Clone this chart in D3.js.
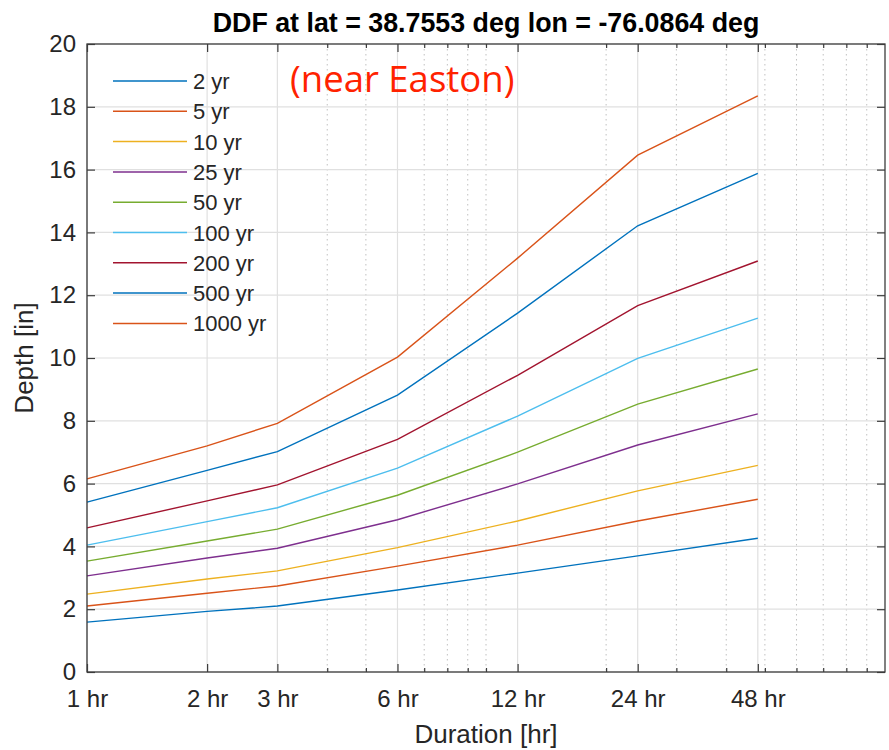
<!DOCTYPE html>
<html>
<head>
<meta charset="utf-8">
<script src="https://cdn.jsdelivr.net/npm/d3@7"></script>
<style>
body { margin: 0; background: #fff; }
text { font-family: Arial, "Liberation Sans", Helvetica, sans-serif; fill: #262626; }
</style>
</head>
<body>
<svg width="889" height="750"></svg>
<script>
// durations in hours, depth in inches per return period
var durations = [1, 2, 3, 6, 12, 24, 48];
var periods = ['2 yr', '5 yr', '10 yr', '25 yr', '50 yr', '100 yr', '200 yr', '500 yr', '1000 yr'];
var depth2 = [1.59, 1.93, 2.10, 2.61, 3.15, 3.70, 4.26];
var depth5 = [2.10, 2.51, 2.74, 3.37, 4.04, 4.81, 5.50];
var depth10 = [2.48, 2.96, 3.22, 3.96, 4.81, 5.77, 6.58];
var depth25 = [3.06, 3.63, 3.94, 4.85, 5.99, 7.23, 8.22];
var depth50 = [3.53, 4.17, 4.55, 5.63, 7.00, 8.53, 9.65];
var depth100 = [4.04, 4.79, 5.23, 6.49, 8.15, 9.99, 11.27];
var depth200 = [4.59, 5.45, 5.96, 7.41, 9.45, 11.67, 13.09];
var depth500 = [5.41, 6.42, 7.02, 8.82, 11.43, 14.21, 15.88];
var depth1000 = [6.15, 7.20, 7.92, 10.03, 13.18, 16.46, 18.35];
var xTicks = [1, 2, 3, 6, 12, 24, 48];
var xTickLabels = ['1 hr', '2 hr', '3 hr', '6 hr', '12 hr', '24 hr', '48 hr'];
var xMinor = [4, 5, 7, 8, 9, 10, 20, 30, 40, 50, 60, 70, 80, 90];
var yTicks = [0, 2, 4, 6, 8, 10, 12, 14, 16, 18, 20];

var series = [depth2, depth5, depth10, depth25, depth50, depth100, depth200, depth500, depth1000];
var colors = ['#0072BD', '#D95319', '#EDB120', '#7E2F8E', '#77AC30', '#4DBEEE', '#A2142F', '#0072BD', '#D95319'];

var svg = d3.select('svg'),
margin = {top: 44, right: 4, bottom: 78, left: 87},
width = 889 - margin.left - margin.right,
height = 750 - margin.top - margin.bottom,
g = svg.append('g').attr('transform', 'translate(' + margin.left + ',' + margin.top + ')');

var x = d3.scaleLog().domain([1, 100]).range([0, width]),
y = d3.scaleLinear().domain([0, 20]).range([height, 0]);

// grid: minor dotted first, then major
g.append('g').selectAll('line')
.data(xMinor)
.enter().append('line')
.attr('x1', function(d) { return x(d); }).attr('x2', function(d) { return x(d); })
.attr('y1', 0).attr('y2', height)
.style('stroke', '#c0c0c0').style('stroke-width', '1px').style('stroke-dasharray', '1.5,3.5');

g.append('g').selectAll('line')
.data(xTicks)
.enter().append('line')
.attr('x1', function(d) { return x(d); }).attr('x2', function(d) { return x(d); })
.attr('y1', 0).attr('y2', height)
.style('stroke', '#e0e0e0').style('stroke-width', '1.2px');

g.append('g').selectAll('line')
.data(yTicks)
.enter().append('line')
.attr('x1', 0).attr('x2', width)
.attr('y1', function(d) { return y(d); }).attr('y2', function(d) { return y(d); })
.style('stroke', '#e0e0e0').style('stroke-width', '1.2px');

// data lines
var line = d3.line()
.x(function(d, i) { return x(durations[i]); })
.y(function(d) { return y(d); });

series.forEach(function(s, i) {
g.append('path')
.attr('d', line(s))
.style('fill', 'none')
.style('stroke', colors[i])
.style('stroke-width', '1.4px');
});

// axes (box with inward ticks on all sides)
var axisColor = '#3c3c3c';
function styleAxis(sel) {
sel.select('.domain').remove();
sel.selectAll('.tick line').style('stroke', axisColor).style('stroke-width', '1.2px');
sel.selectAll('text').style('font-size', '24px').style('fill', '#262626')
.style('font-family', 'Arial, "Liberation Sans", sans-serif');
}

g.append('g').attr('transform', 'translate(0,' + height + ')')
.call(d3.axisBottom(x).tickValues(xTicks).tickFormat(function(d, i) { return xTickLabels[i]; })
.tickSizeInner(-8).tickSizeOuter(0).tickPadding(18))
.call(styleAxis);
g.append('g').attr('transform', 'translate(0,' + height + ')')
.call(d3.axisBottom(x).tickValues(xMinor).tickFormat('').tickSizeInner(-4).tickSizeOuter(0))
.call(styleAxis);
g.append('g')
.call(d3.axisTop(x).tickValues(xTicks).tickFormat('').tickSizeInner(-8).tickSizeOuter(0))
.call(styleAxis);
g.append('g')
.call(d3.axisTop(x).tickValues(xMinor).tickFormat('').tickSizeInner(-4).tickSizeOuter(0))
.call(styleAxis);
g.append('g')
.call(d3.axisLeft(y).tickValues(yTicks).tickSizeInner(-8).tickSizeOuter(0).tickPadding(11))
.call(styleAxis);
g.append('g').attr('transform', 'translate(' + width + ',0)')
.call(d3.axisRight(y).tickValues(yTicks).tickFormat('').tickSizeInner(-8).tickSizeOuter(0))
.call(styleAxis);

g.append('rect')
.attr('width', width).attr('height', height)
.style('fill', 'none').style('stroke', axisColor).style('stroke-width', '1.3px');

// legend (no box)
var legend = g.append('g').attr('transform', 'translate(26,37)');
periods.forEach(function(p, i) {
var row = legend.append('g').attr('transform', 'translate(0,' + (i * 30.3) + ')');
row.append('line').attr('x1', 0).attr('x2', 74).attr('y1', 0).attr('y2', 0)
.style('stroke', colors[i]).style('stroke-width', '1.5px');
row.append('text').attr('x', 80).attr('y', 8).style('font-size', '22px').text(p);
});

// annotation
g.append('text')
.attr('x', 203).attr('y', 48)
.style('font-family', '"Open Sans", Lato, sans-serif')
.style('font-size', '36.5px')
.style('fill', '#ff2200')
.text('(near Easton)');

// title and labels
svg.append('text')
.attr('x', margin.left + width / 2).attr('y', 32)
.attr('text-anchor', 'middle')
.style('font-size', '26.8px').style('font-weight', 'bold').style('fill', '#000')
.text('DDF at lat = 38.7553 deg lon = -76.0864 deg');

svg.append('text')
.attr('x', margin.left + width / 2).attr('y', 743)
.attr('text-anchor', 'middle')
.style('font-size', '26px')
.text('Duration [hr]');

svg.append('text')
.attr('transform', 'translate(33,' + (margin.top + height / 2) + ') rotate(-90)')
.attr('text-anchor', 'middle')
.style('font-size', '26px')
.text('Depth [in]');
</script>
</body>
</html>
